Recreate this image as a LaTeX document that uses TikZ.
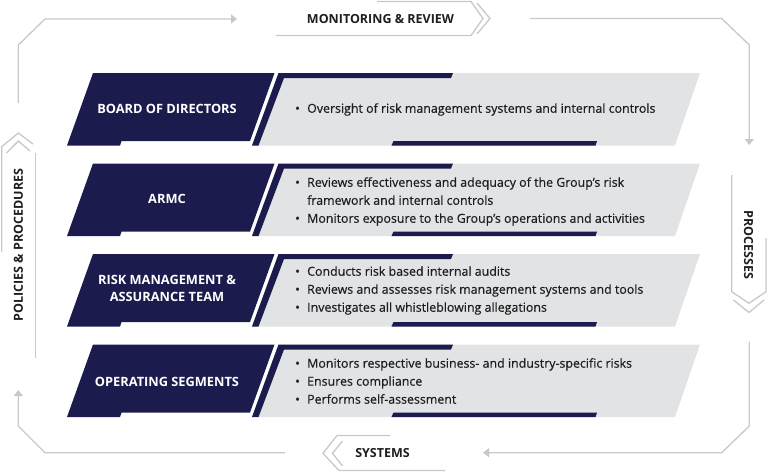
\documentclass[tikz,border=0pt]{standalone}
\usepackage{fontspec}
\setmainfont{Open Sans}
\newfontfamily\bodyfont[FakeBold=0.4]{Open Sans}
\usetikzlibrary{arrows.meta}
\definecolor{navy}{HTML}{1B1B4D}
\definecolor{panel}{HTML}{E2E3E4}
\definecolor{frameclr}{HTML}{C8C8C8}
\definecolor{ink}{HTML}{1E1E1E}
\newcommand\bandshapes[1]{%
 \begin{scope}[shift={(0,#1)}]
  \fill[navy] (67,72.5) -- (93,0) -- (274.5,0) -- (250,68) -- (121.5,68) -- (120,72.5) -- cycle;
  \fill[panel] (252,72.5) -- (278.5,0) -- (700,0) -- (675,72.5) -- cycle;
  \fill[navy] (252,72.5) -- (278.5,0) -- (453,0) -- (451,5) -- (284,5) -- (258.5,72.5) -- cycle;
  \fill[navy] (391.5,72.5) -- (393.5,68) -- (597,68) -- (595.5,72.5) -- cycle;
 \end{scope}}
\newcommand\bl[1]{\makebox[12pt][l]{•}#1}
\newcommand\cont[1]{\hspace*{12pt}#1}
\tikzset{
  titletext/.style={text=white, font=\bfseries\fontsize{12.8}{17}\selectfont, align=center, inner sep=0pt},
  bullettext/.style={text=ink, font=\bodyfont\fontsize{12.4}{18}\selectfont, align=left, anchor=west, inner sep=0pt},
  labeltext/.style={text=ink, font=\bfseries\fontsize{12.5}{15}\selectfont, inner sep=0pt},
  frameline/.style={draw=frameclr, line width=1.3pt, line join=miter},
  framearrow/.style={frameline, -{Triangle[width=9pt,length=6pt]}},
}
\begin{document}
\begin{tikzpicture}[x=1pt,y=-1pt]
\useasboundingbox (0,0) rectangle (768,472);
% bands
\bandshapes{73}
\bandshapes{163.5}
\bandshapes{254}
\bandshapes{344.5}
% titles
\node[titletext] (t1) at (167,109) {BOARD OF DIRECTORS};
\node[titletext] (t2) at (167,199) {ARMC};
\node[titletext] (t3) at (167,288.5) {RISK MANAGEMENT \&\\ASSURANCE TEAM};
\node[titletext] (t4) at (167,382) {OPERATING SEGMENTS};
% bullets
\node[bullettext] (b1) at (295,109.5) {\bl{Oversight of risk management systems and internal controls}};
\node[bullettext] (b2) at (295,201.5) {\bl{Reviews effectiveness and adequacy of the Group’s risk}\\\cont{framework and internal controls}\\\bl{Monitors exposure to the Group’s operations and activities}};
\node[bullettext] (b3) at (295,290.5) {\bl{Conducts risk based internal audits}\\\bl{Reviews and assesses risk management systems and tools}\\\bl{Investigates all whistleblowing allegations}};
\node[bullettext] (b4) at (295,381) {\bl{Monitors respective business- and industry-specific risks}\\\bl{Ensures compliance}\\\bl{Performs self-assessment}};
% labels
\node[labeltext] (mon) at (380.5,19.5) {MONITORING \& REVIEW};
\node[labeltext] (sys) at (382.5,453.5) {SYSTEMS};
\node[labeltext, rotate=90] (pol) at (18.5,245) {POLICIES \& PROCEDURES};
\node[labeltext, rotate=-90] (proc) at (748.5,245) {PROCESSES};
% frame coordinates
\coordinate (a1) at (18.3,103);
\coordinate (a2) at (18.3,45);
\coordinate (a3) at (45,19);
\coordinate (a4) at (237,19);
\coordinate (c1) at (530,18.5);
\coordinate (c2) at (721.7,18.5);
\coordinate (c3) at (749.3,45);
\coordinate (c4) at (749.3,145);
\coordinate (d1) at (749.3,341.7);
\coordinate (d2) at (749.3,426);
\coordinate (d3) at (721.7,452.7);
\coordinate (d4) at (483,452.7);
\coordinate (e1) at (285,452.7);
\coordinate (e2) at (45,452.7);
\coordinate (e3) at (18.3,426);
\coordinate (e4) at (18.3,390);
\draw[framearrow] (a1) -- (a2) -- (a3) -- (a4);
\draw[framearrow] (c1) -- (c2) -- (c3) -- (c4);
\draw[framearrow] (d1) -- (d2) -- (d3) -- (d4);
\draw[framearrow] (e1) -- (e2) -- (e3) -- (e4);
% monitoring box
\draw[frameline] (377,1.5) -- (471,1.5) -- (483,18.5) -- (471,35.5) -- (276,35.5);
\draw[frameline] (477,3) -- (490,18.5) -- (477,34);
% systems box
\draw[frameline] (390,435.5) -- (337,435.5) -- (323,453.3) -- (339,470.5) -- (445,470.5);
\draw[frameline] (342.5,441) -- (332.5,453.3) -- (342.5,466);
% processes box
\draw[frameline] (731.7,175) -- (731.7,291.7) -- (749,303.3) -- (766,291.7) -- (766,238);
\draw[frameline] (733.5,300) -- (749,312.5) -- (764,300);
% policies box
\draw[frameline] (1.7,252) -- (1.7,146.7) -- (18.3,133) -- (33,144);
\draw[frameline] (6.5,153) -- (18.3,141) -- (30,151);
\draw[frameline] (35.5,153) -- (35.5,358);
\end{tikzpicture}
\end{document}
